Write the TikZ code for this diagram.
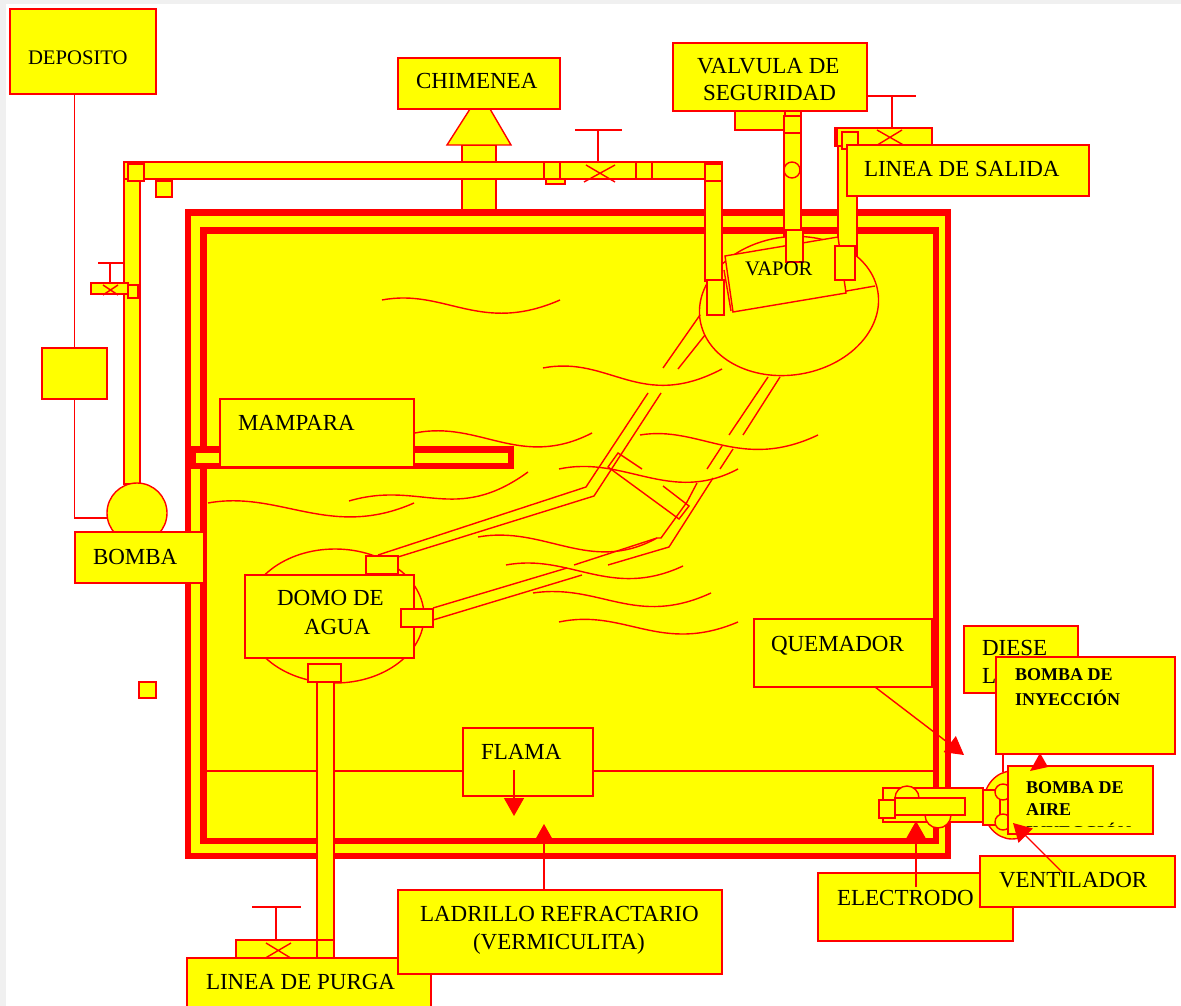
\documentclass[tikz,border=0pt]{standalone}
\usepackage{fontspec}
\setmainfont{Liberation Serif}
\usetikzlibrary{arrows.meta}
\definecolor{rd}{HTML}{FF0000}
\definecolor{yl}{HTML}{FFFF00}
\definecolor{edgegrey}{HTML}{F0F0F0}
\tikzset{
  lbl/.style={draw=rd,fill=yl,line width=1.4pt,rectangle,inner sep=0pt,outer sep=0pt},
  part/.style={draw=rd,fill=yl,line width=1.4pt},
  wall/.style={draw=rd,line width=6.8pt,fill=none},
  thin line/.style={draw=rd,line width=1.4pt},
  wave/.style={draw=rd,line width=1.4pt},
  arr/.style={draw=rd,line width=1.4pt,-{Triangle[length=18pt,width=20pt]}},
  txt/.style={anchor=base west,inner sep=0pt,outer sep=0pt,text=black,font=\fontsize{23}{26}\selectfont},
  txs/.style={txt,font=\fontsize{20.7}{24}\selectfont},
  txb/.style={txt,font=\bfseries\fontsize{18}{21}\selectfont}
}
% labelled box: name, x1, y1, x2, y2
\newcommand{\bx}[5]{%
  \pgfmathsetmacro{\bw}{#4-#2}\pgfmathsetmacro{\bh}{#5-#3}%
  \pgfmathsetmacro{\bcx}{(#2+#4)/2}\pgfmathsetmacro{\bcy}{(#3+#5)/2}%
  \node[lbl,minimum width=\bw pt,minimum height=\bh pt] (#1) at (\bcx,\bcy) {};}
\newcommand{\pp}[4]{\draw[part] (#1,#2) rectangle (#3,#4);}
\begin{document}
\begin{tikzpicture}[x=1pt,y=-1pt]
\useasboundingbox (0,0) rectangle (1181,1006);
\clip (0,0) rectangle (1181,1006);
\fill[white] (0,0) rectangle (1181,1006);
\fill[edgegrey] (0,0) rectangle (6,1006);
\fill[edgegrey] (0,0) rectangle (1181,4);

% furnace
\fill[yl] (188,212.5) rectangle (948,856);
\draw[wall] (188,212.5) rectangle (948,856);
\draw[wall] (203.5,230.5) rectangle (936,841);
\draw[thin line] (204,771) -- (934,771);

% chimney
\pp{462}{145}{496}{210}
\draw[part] (447,145) -- (470,109) -- (490,109) -- (511,145) -- cycle;
\bx{chimenea}{398}{58}{560}{109}

% top header and valve
\pp{124}{162}{140}{484}
\pp{156}{181}{172}{197}
\pp{546}{178}{565}{184}
\pp{124}{162}{722}{179}
\pp{128}{164}{144}{181}
\pp{544}{162}{636}{179}
\pp{544}{162}{560}{179}
\pp{636}{162}{652}{179}
\draw[thin line] (586,165) -- (615,182) (615,165) -- (584,182);
\draw[thin line] (598,162) -- (598,130) (575,130) -- (622,130);

% small side valve
\pp{91}{283}{128}{294}
\pp{128}{285}{138}{298}
\draw[thin line] (103,285) -- (118,295) (118,285) -- (103,295);
\draw[thin line] (110,283) -- (110,263) (98,263) -- (123,263);

% feed side
\bx{deposito}{10}{9}{156}{94}
\bx{tanque}{42}{348}{107}{399}
\node[part,circle,minimum size=60pt,inner sep=0pt,outer sep=0pt] (bombacirc) at (137,513) {};
\coordinate (codo) at (74.5,518);
\draw[thin line] (deposito.south -| codo) -- (tanque.north -| codo);
\draw[thin line] (tanque.south -| codo) -- (codo) -- (bombacirc.west |- codo);
\bx{bomba}{75}{532}{204}{583}
\pp{139}{682}{156}{698}

% steam dome
\pp{784}{111}{801}{240}
\pp{838}{135}{857}{260}
\draw[part,rotate around={9:(789,306)}] (789,306) ellipse [x radius=90,y radius=69];
\draw[thin line] (733,311) -- (875,286);
\draw[part] (725,256) -- (838,237) -- (846,293) -- (733,312) -- cycle;
\draw[thin line] (724,270) -- (731,311);
\pp{705}{162}{722}{281}
\pp{705}{164}{722}{181}
\pp{707}{280}{724}{315}
\pp{786}{230}{803}{262}
\pp{835}{246}{855}{280}

% safety valve
\pp{735}{111}{785}{130}
\pp{784}{116}{801}{133}
\draw[part] (792,170) circle [radius=8];
\bx{valvula}{673}{43}{867}{111}

% outlet valve
\pp{835}{128}{932}{146}
\fill[rd] (834,128) rectangle (838,146);
\pp{842}{132}{858}{149}
\draw[thin line] (877,130) -- (907,147) (902,130) -- (874,147);
\draw[thin line] (892,128) -- (892,96) (867,96) -- (916,96);
\bx{salida}{847}{145}{1089}{196}

% water dome
\draw[part] (335,616) ellipse [x radius=89,y radius=67];
\bx{domo}{245}{575}{414}{658}
\pp{366}{556}{398}{574}
\pp{401}{609}{433}{627}
\pp{317}{682}{334}{958}
\pp{308}{664}{341}{682}

% baffle
\draw[draw=rd,line width=6.4pt] (193,449.5) rectangle (511,466);
\fill[yl] (196.5,453) rectangle (507.5,462.5);
\bx{mampara}{220}{399}{414}{467}

% tubes
\draw[thin line] (378,555) -- (586,487) -- (648,393);
\draw[thin line] (398,557) -- (594,496) -- (661,393);
\draw[thin line] (663,368) -- (700,315) (678,369) -- (705,335);
\draw[thin line] (433,608) -- (567,568) (574,565) -- (657,538) -- (661,538) -- (687,502) -- (697,483);
\draw[thin line] (433,620) -- (582,575) (608,565) -- (669,547) -- (713,478);
\draw[thin line] (707,469) -- (722,446) (720,469) -- (733,449);
\draw[thin line] (729,435) -- (768,377) (743,435) -- (780,377);
\draw[thin line] (663,486) -- (689,506) -- (679,519) -- (608,467) -- (618,453) -- (642,469);

% water / flue waves
\draw[wave] (382,300) .. controls (445,288) and (480,335) .. (560,300);
\draw[wave] (543,368) .. controls (610,355) and (640,412) .. (722,369);
\draw[wave] (415,433) .. controls (480,420) and (520,470) .. (592,433);
\draw[wave] (640,435) .. controls (700,425) and (740,472) .. (818,435);
\draw[wave] (559,469) .. controls (625,455) and (670,505) .. (738,469);
\draw[wave] (349,501) .. controls (420,480) and (455,525) .. (528,472);
\draw[wave] (208,503) .. controls (280,490) and (330,540) .. (414,503);
\draw[wave] (478,537) .. controls (545,525) and (590,575) .. (657,538);
\draw[wave] (506,565) .. controls (570,553) and (610,600) .. (683,566);
\draw[wave] (533,593) .. controls (600,583) and (635,628) .. (711,593);
\draw[wave] (559,622) .. controls (625,608) and (660,655) .. (738,622);

% purge valve
\pp{236}{940}{334}{958}
\draw[thin line] (262,960) -- (291,943) (266,943) -- (294,960);
\draw[thin line] (276,940) -- (276,907) (252,907) -- (301,907);
\pp{317}{940}{334}{958}
\bx{purga}{187}{958}{431}{1012}
\bx{ladrillo}{398}{890}{722}{974}
\bx{flama}{463}{728}{593}{796}
\bx{quemador}{754}{619}{932}{687}

% burner
\draw[part] (1012,805) ellipse [x radius=29,y radius=34];
\draw[thin line] (1003,754) -- (1003,772);
\pp{883}{788}{983}{822}
\draw[part] (895,798) arc (180:360:12);
\draw[part] (925,815) arc (180:0:13);
\draw[part] (925,815) arc (180:360:13);
\pp{895}{798}{965}{815}
\pp{879}{800}{895}{818}
\pp{983}{790}{1000}{825}
\draw[part] (1003,792) circle [radius=8];
\draw[part] (1003,822) circle [radius=8];

\bx{diesel}{964}{626}{1078}{693}
\bx{inyeccion}{996}{657}{1175}{754}
\bx{aire}{1008}{766}{1153}{834}
\bx{electrodo}{818}{873}{1013}{941}
\bx{ventilador}{980}{856}{1175}{907}

% texts
\node[txs] (tdep) at (28,65) {DEPOSITO};
\node[txt] (tchi) at (416,89) {CHIMENEA};
\node[txt] (tval1) at (697,74) {VALVULA DE};
\node[txt] (tval2) at (703,101) {SEGURIDAD};
\node[txt] (tsal) at (864,177) {LINEA DE SALIDA};
\node[txs] (tvap) at (745,275) {VAPOR};
\node[txt] (tmam) at (238,430) {MAMPARA};
\node[txt] (tbom) at (93,564) {BOMBA};
\node[txt] (tdom1) at (277,605) {DOMO DE};
\node[txt] (tdom2) at (304,634) {AGUA};
\node[txt] (tfla) at (481,759) {FLAMA};
\node[txt] (tque) at (771,651) {QUEMADOR};
\node[txt] (tdie1) at (982,655) {DIESE};
\node[txt] (tdie2) at (982,683) {L};
\node[txb] (tiny1) at (1015,680) {BOMBA DE};
\node[txb] (tiny2) at (1015,705) {INYECCIÓN};
\node[txb] (tair1) at (1026,793) {BOMBA DE};
\node[txb] (tair2) at (1026,815) {AIRE};
\begin{scope}
  \clip (1008,766) rectangle (1153,826);
  \node[txb] (tair3) at (1026,838) {INYECCIÓN};
\end{scope}
\node[txt] (tven) at (999,887) {VENTILADOR};
\node[txt] (tele) at (837,905) {ELECTRODO};
\node[txt] (tlad1) at (420,921) {LADRILLO REFRACTARIO};
\node[txt] (tlad2) at (473,949) {(VERMICULITA)};
\node[txt] (tpur) at (206,989) {LINEA DE PURGA};

% pointers
\coordinate (tipF) at (514,816);
\coordinate (tipL) at (544,824);
\coordinate (tipQ) at (964,755);
\coordinate (tipE) at (916,821);
\coordinate (tipV) at (1013,823);
\coordinate (srcQ) at (875,687);
\coordinate (srcF) at (514,770);
\coordinate (srcE) at (916,887);
\coordinate (srcV) at (1062,872);
\draw[arr] (srcF) -- (tipF);
\draw[arr] (ladrillo.north -| tipL) -- (tipL);
\draw[arr] (quemador.south -| srcQ) -- (tipQ);
\draw[arr] (srcE) -- (tipE);
\draw[arr] (srcV) -- (tipV);
\fill[rd] (1030,771) -- (1040,753) -- (1048,767) -- cycle;
\end{tikzpicture}
\end{document}
